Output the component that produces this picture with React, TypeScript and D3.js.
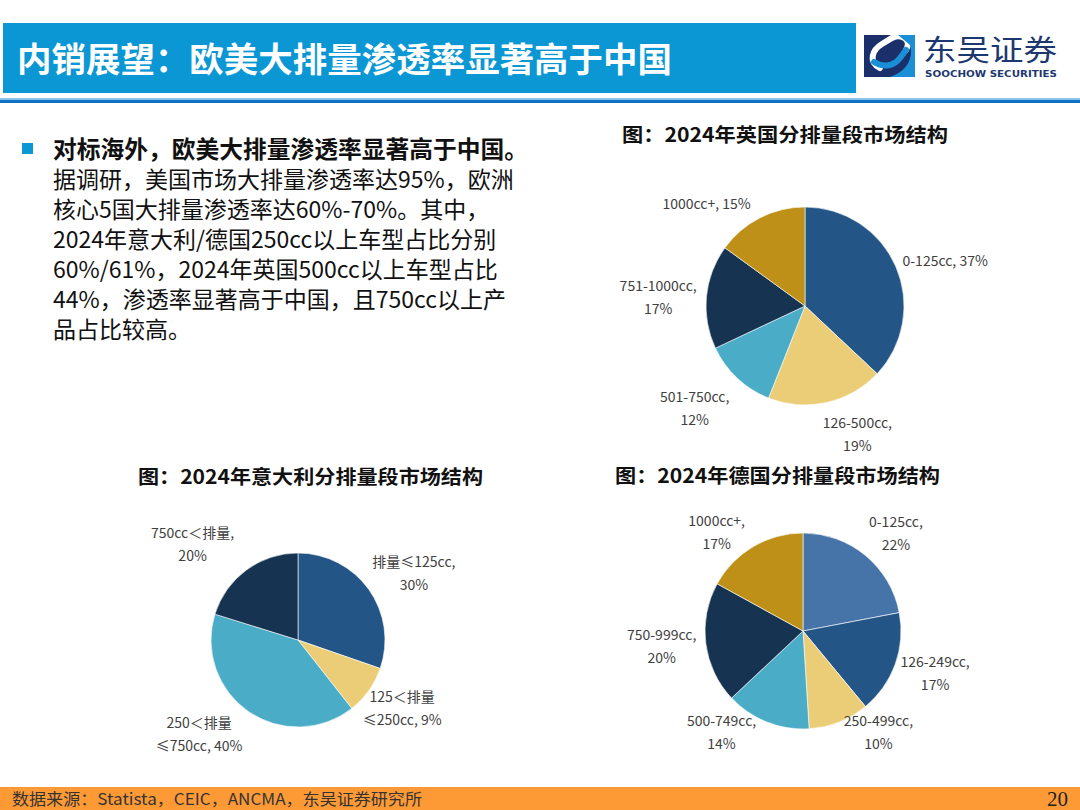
import React, { useEffect, useRef } from 'react';
import * as d3 from 'd3';

// UK 2024 displacement structure
const ukCategories = ['0-125cc', '126-500cc', '501-750cc', '751-1000cc', '1000cc+'];
const ukValues = [37, 19, 12, 17, 15];
const ukBreaks = [false, true, true, true, false];

// Italy 2024
const itCategories = ['排量≤125cc', '125＜排量\n≤250cc', '250＜排量\n≤750cc', '750cc＜排量'];
const itValues = [30, 9, 40, 20];
const itBreaks = [true, false, false, true];

// Germany 2024
const deCategories = ['0-125cc', '126-249cc', '250-499cc', '500-749cc', '750-999cc', '1000cc+'];
const deValues = [22, 17, 10, 14, 20, 17];
const deBreaks = [true, true, true, true, true, true];

const bodyLines = [
  '据调研，美国市场大排量渗透率达95%，欧洲',
  '核心5国大排量渗透率达60%-70%。其中，',
  '2024年意大利/德国250cc以上车型占比分别',
  '60%/61%，2024年英国500cc以上车型占比',
  '44%，渗透率显著高于中国，且750cc以上产',
  '品占比较高。',
];

const C = {
  navy: '#163351',
  blue: '#235687',
  mid: '#4673a8',
  yellow: '#eccd77',
  light: '#4aacc6',
  gold: '#be9018',
};

const FONT = '"Noto Sans CJK SC", "Noto Sans", sans-serif';

interface PieProps {
  categories: string[];
  values: number[];
  breaks: boolean[];
  colors: string[];
  cx: number;
  cy: number;
  r: number;
  nudges: [number, number][];
}

const Pie = ({ categories, values, breaks, colors, cx, cy, r, nudges }: PieProps) => {
  const ref = useRef<SVGGElement>(null);

  useEffect(() => {
    if (!ref.current) return;
    const g = d3.select(ref.current);
    g.selectAll('*').remove();

    const pie = d3.pie<number>().value(d => d).sort(null);
    const arcs = pie(values);
    const arc = d3.arc<d3.PieArcDatum<number>>().innerRadius(0).outerRadius(r);

    g.selectAll('path.slice')
      .data(arcs)
      .enter()
      .append('path')
      .attr('class', 'slice')
      .attr('transform', `translate(${cx},${cy})`)
      .attr('d', arc as any)
      .attr('fill', (_, i) => colors[i])
      .attr('stroke', '#fff')
      .attr('stroke-width', 0.6);

    // labels sit just outside each slice, pushed away from the centre by half their box
    arcs.forEach((a, i) => {
      const text = `${categories[i]},${breaks[i] ? '\n' : ' '}${values[i]}%`;
      const lines = text.split('\n');
      const t = g.append('text')
        .attr('font-family', FONT)
        .attr('font-size', 14)
        .attr('fill', '#404040')
        .attr('text-anchor', 'middle');
      lines.forEach((ln, j) => {
        t.append('tspan').attr('x', 0).attr('y', j * 23).text(ln);
      });
      const bb = (t.node() as SVGTextElement).getBBox();
      const mid = (a.startAngle + a.endAngle) / 2;
      const s = Math.sin(mid);
      const c = -Math.cos(mid);
      const px = cx + r * 1.1 * s;
      const py = cy + r * 1.1 * c;
      const bx = px + s * bb.width / 2 + nudges[i][0];
      const by = py + c * bb.height / 2 + nudges[i][1];
      t.attr('transform', `translate(${bx},${by - (bb.y + bb.height / 2)})`);
    });
  }, [categories, values, breaks, colors, cx, cy, r, nudges]);

  return <g ref={ref} />;
};

export default function App() {
  return (
    <svg
      width={1080}
      height={810}
      viewBox="0 0 1080 810"
      style={{ position: 'absolute', left: 0, top: 0, background: '#fff' }}
      fontFamily={FONT}
    >
      <rect x={0} y={0} width={1080} height={810} fill="#fff" />

      {/* header */}
      <rect x={3} y={23} width={853} height={70} fill="#0b96d4" />
      <text x={17} y={72} fill="#fff" fontSize={34} fontWeight="bold" textLength={655} lengthAdjust="spacingAndGlyphs">
        内销展望：欧美大排量渗透率显著高于中国
      </text>
      <rect x={0} y={98} width={1080} height={2} fill="#8ec3e8" />
      <rect x={0} y={100} width={1080} height={3} fill="#1071c2" />

      {/* logo */}
      <g>
        <rect x={864} y={35} width={51} height={42} fill="#1b2f6b" />
        <path
          d="M880,68 C868,62 872,50 882,44 L892,38 C902,33 912,40 906,50"
          fill="none"
          stroke="#fff"
          strokeWidth={6}
          strokeLinecap="round"
        />
        <path
          d="M874,62 C884,68 894,66 900,58 L906,50"
          fill="none"
          stroke="#1a8fd6"
          strokeWidth={6}
          strokeLinecap="round"
        />
        <path d="M898,35 L915,35 L915,77 L890,77 C905,72 914,60 910,45 Z" fill="#1a8fd6" />
        <text x={923} y={61} fontSize={29} fill="#1d3770" textLength={134} lengthAdjust="spacingAndGlyphs">
          东吴证券
        </text>
        <text x={925} y={77} fontSize={9.5} fontWeight="bold" fill="#1d3770" fontFamily="'DejaVu Sans', sans-serif" textLength={132} lengthAdjust="spacingAndGlyphs">
          SOOCHOW SECURITIES
        </text>
      </g>

      {/* bullet text, one paragraph */}
      <rect x={22} y={143} width={11} height={11} fill="#0b96d4" />
      <text fontSize={23} fill="#111">
        <tspan x={53} y={158} fontSize={23.5} fontWeight="bold" textLength={475} lengthAdjust="spacingAndGlyphs">
          对标海外，欧美大排量渗透率显著高于中国。
        </tspan>
        {bodyLines.map((ln, i) => (
          <tspan key={i} x={53} y={188 + i * 30}>
            {ln}
          </tspan>
        ))}
      </text>

      {/* chart titles */}
      <text x={622} y={142} fontSize={19.5} fontWeight="bold" fill="#111" textLength={326} lengthAdjust="spacingAndGlyphs">
        图：2024年英国分排量段市场结构
      </text>
      <text x={138} y={484} fontSize={19.5} fontWeight="bold" fill="#111" textLength={345} lengthAdjust="spacingAndGlyphs">
        图：2024年意大利分排量段市场结构
      </text>
      <text x={615} y={483} fontSize={19.5} fontWeight="bold" fill="#111" textLength={325} lengthAdjust="spacingAndGlyphs">
        图：2024年德国分排量段市场结构
      </text>

      <Pie
        categories={ukCategories}
        values={ukValues}
        breaks={ukBreaks}
        colors={[C.blue, C.yellow, C.light, C.navy, C.gold]}
        cx={805}
        cy={306}
        r={99}
        nudges={[[1, 1], [21, 0], [-12, 6], [0, 3], [-29, 3]]}
      />
      <Pie
        categories={itCategories}
        values={itValues}
        breaks={itBreaks}
        colors={[C.blue, C.yellow, C.light, C.navy]}
        cx={298}
        cy={640}
        r={87}
        nudges={[[4, 0], [-6, 0], [-20, -3], [-24, -2]]}
      />
      <Pie
        categories={deCategories}
        values={deValues}
        breaks={deBreaks}
        colors={[C.mid, C.blue, C.yellow, C.light, C.navy, C.gold]}
        cx={803}
        cy={631}
        r={98}
        nudges={[[7, 1], [-2, -2], [23, -20], [-29, -20], [0, -2], [-17, 12]]}
      />

      {/* footer */}
      <rect x={0} y={787} width={1080} height={23} fill="#fe9a36" />
      <text x={12} y={805} fontSize={16} fill="#333" textLength={410} lengthAdjust="spacingAndGlyphs">
        数据来源：Statista，CEIC，ANCMA，东吴证券研究所
      </text>
      <text x={1068} y={806} fontSize={21} fill="#222" textAnchor="end" fontFamily="'Liberation Serif', serif">
        20
      </text>
    </svg>
  );
}
